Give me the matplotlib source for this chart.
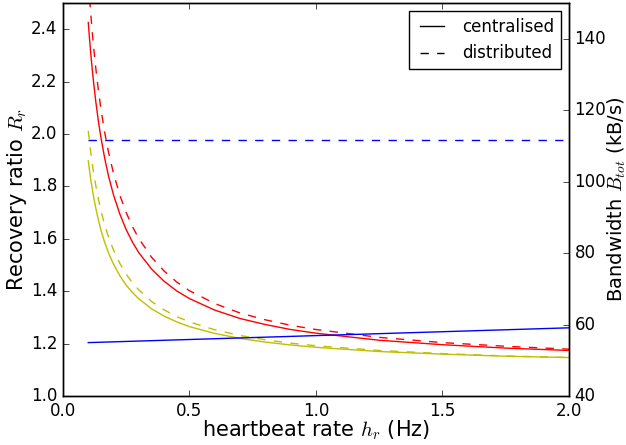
import matplotlib
matplotlib.use("Agg")
import matplotlib.pyplot as plt

plt.style.use("classic")
plt.rcParams["figure.facecolor"] = "white"
plt.rcParams["savefig.facecolor"] = "white"

# heartbeat rate (Hz)
h = [0.1, 0.105, 0.11, 0.115, 0.12, 0.13, 0.14, 0.15, 0.165, 0.18, 0.2, 0.225, 0.25, 0.275,
     0.3, 0.35, 0.4, 0.45, 0.5, 0.6, 0.7, 0.8, 0.9, 1.0, 1.25, 1.5, 1.75, 2.0]

# recovery ratio
red_central = [2.426, 2.363, 2.306, 2.254, 2.206, 2.122, 2.049, 1.987, 1.907, 1.840, 1.767,
               1.694, 1.635, 1.587, 1.547, 1.485, 1.438, 1.401, 1.372, 1.328, 1.296, 1.273,
               1.254, 1.240, 1.213, 1.196, 1.183, 1.174]
red_distrib = [2.592, 2.521, 2.457, 2.398, 2.344, 2.249, 2.167, 2.096, 2.006, 1.931, 1.849,
               1.766, 1.700, 1.646, 1.601, 1.530, 1.477, 1.435, 1.402, 1.353, 1.317, 1.291,
               1.270, 1.254, 1.224, 1.204, 1.190, 1.179]
yel_central = [1.898, 1.860, 1.826, 1.795, 1.766, 1.716, 1.672, 1.634, 1.586, 1.546, 1.503,
               1.459, 1.423, 1.395, 1.371, 1.333, 1.305, 1.283, 1.265, 1.239, 1.220, 1.206,
               1.195, 1.186, 1.170, 1.160, 1.152, 1.147]
yel_distrib = [2.012, 1.969, 1.929, 1.893, 1.860, 1.802, 1.752, 1.708, 1.653, 1.607, 1.557,
               1.506, 1.465, 1.432, 1.405, 1.361, 1.329, 1.303, 1.283, 1.253, 1.231, 1.215,
               1.202, 1.192, 1.174, 1.162, 1.153, 1.147]

# bandwidth (kB/s)
bw_h = [0.1, 0.5, 1.0, 1.5, 2.0]
bw_central = [54.96, 55.83, 56.92, 58.01, 59.1]
bw_distrib = [111.8, 111.8, 111.8, 111.8, 111.8]

fig = plt.figure(figsize=(6.26, 4.45), dpi=100)
ax = fig.add_axes([0.1006, 0.110, 0.8083, 0.883])

ax.plot(h, red_central, color="r", ls="-", lw=1)
ax.plot(h, red_distrib, color="r", ls="--", lw=1)
ax.plot(h, yel_central, color="y", ls="-", lw=1)
ax.plot(h, yel_distrib, color="y", ls="--", lw=1)
ax.set_xlim(0, 2.0)
ax.set_ylim(1.0, 2.5)
ax.set_xlabel("heartbeat rate $h_r$ (Hz)", fontsize=15)
ax.set_ylabel("Recovery ratio $R_r$", fontsize=15)
ax.xaxis.set_label_coords(0.5, -0.058)
ax.yaxis.set_label_coords(-0.067, 0.5)

ax2 = ax.twinx()
ax2.plot(bw_h, bw_central, color="b", ls="-", lw=1)
ax2.plot(bw_h, bw_distrib, color="b", ls="--", lw=1)
ax2.set_ylim(40, 150)
ax2.set_ylabel("Bandwidth $B_{tot}$ (kB/s)", fontsize=14)
ax2.yaxis.set_label_coords(1.072, 0.5)

l1, = ax2.plot([], [], color="k", ls="-", lw=1, label="centralised")
l2, = ax2.plot([], [], color="k", ls="--", lw=1, label="distributed")
ax2.legend(handles=[l1, l2], loc="upper right", fontsize=12)

fig.savefig("out.png", dpi=100)
